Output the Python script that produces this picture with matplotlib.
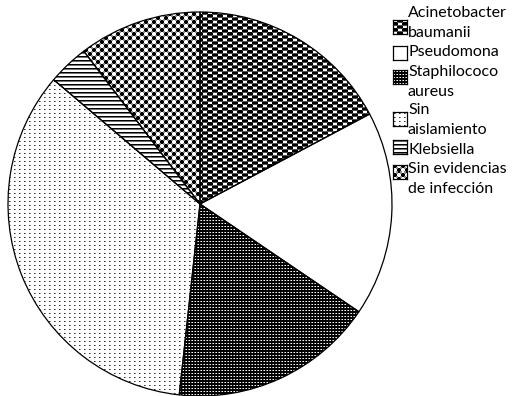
import numpy as np
import matplotlib
matplotlib.use("Agg")
import matplotlib.pyplot as plt

# data (29 cases)
labels = ["Acinetobacter\nbaumanii", "Pseudomona", "Staphilococo\naureus",
          "Sin\naislamiento", "Klebsiella", "Sin evidencias\nde infección"]
counts = [5, 5, 5, 10, 1, 3]


def tile(kind):
    # small pixel tiles, 1 = white, 0 = black
    if kind == "bigcheck":
        t = np.zeros((6, 10))
        t[0:2, 0:4] = 1
        t[3:5, 5:9] = 1
        t[2, :] = 0.3
        t[5, :] = 0.3
        t[2, 0:4] = 0.0
    elif kind == "white":
        t = np.ones((2, 2))
    elif kind == "darkgrid":
        t = np.zeros((3, 3))
        t[1, 1] = 1
        t[1, 0] = 0.55
    elif kind == "dots":
        t = np.ones((4, 5))
        t[1, 1] = 0.2
        t[1, 2] = 0.55
    elif kind == "hlines":
        t = np.ones((4, 1))
        t[0, 0] = 0
        t[1, 0] = 0.45
    elif kind == "diamond":
        y, x = np.mgrid[0:8, 0:8]
        t = ((x // 4 + y // 4) % 2).astype(float)
        corner = ((x % 4 == 0) | (x % 4 == 3)) & ((y % 4 == 0) | (y % 4 == 3))
        t[corner] = 0.55
    return t


def pattern(kind, h, w):
    t = tile(kind)
    reps = (h // t.shape[0] + 1, w // t.shape[1] + 1)
    img = np.tile(t, reps)[:h, :w]
    return np.dstack([img, img, img])


kinds = ["bigcheck", "white", "darkgrid", "dots", "hlines", "diamond"]

W, H = 513, 396
fig = plt.figure(figsize=(W / 100, H / 100), dpi=100)

R = 192
cx, cy = 200, 204
ax = fig.add_axes([(cx - R) / W, (H - cy - R) / H, 2 * R / W, 2 * R / H])
wedges, _ = ax.pie(counts, startangle=90, counterclock=False,
                   wedgeprops=dict(facecolor="none", edgecolor="black", linewidth=0.9))
ax.set_xlim(-1, 1)
ax.set_ylim(-1, 1)
ax.set_aspect("auto")
for wd, k in zip(wedges, kinds):
    im = ax.imshow(pattern(k, 2 * R, 2 * R), extent=(-1, 1, -1, 1),
                   interpolation="nearest", zorder=0)
    im.set_clip_path(wd)
ax.axis("off")

# legend drawn by hand
box_y = [27, 53, 77, 119, 147, 172]
text_y = [13, 52, 72, 110, 150, 169]
pitch = 20
bx, bs = 393, 14
for lab, k, by, ty in zip(labels, kinds, box_y, text_y):
    lax = fig.add_axes([bx / W, (H - by - bs / 2) / H, bs / W, bs / H])
    lax.imshow(pattern(k, bs, bs), interpolation="nearest", aspect="auto")
    lax.set_xticks([])
    lax.set_yticks([])
    for s in lax.spines.values():
        s.set_linewidth(0.9)
    for i, line in enumerate(lab.split("\n")):
        fig.text(408 / W, (H - ty - i * pitch) / H, line, fontsize=11.5,
                 family="Lato", va="center", ha="left")

fig.savefig("out.png", dpi=100)
